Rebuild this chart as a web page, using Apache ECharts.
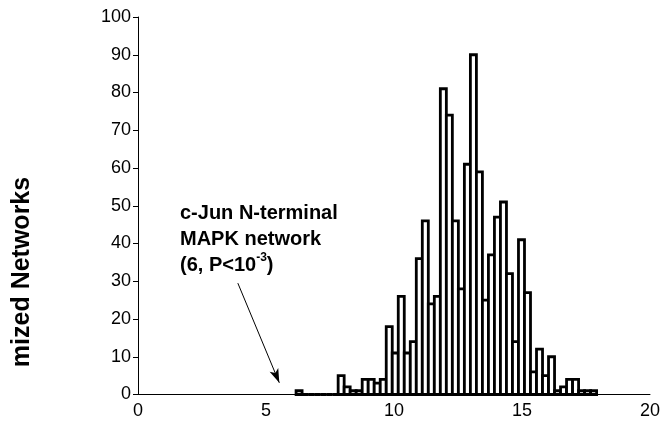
<!DOCTYPE html>
<html><head><meta charset="utf-8">
<script src="https://cdn.jsdelivr.net/npm/echarts@6/dist/echarts.min.js"></script>
<style>html,body{margin:0;padding:0;background:#fff}#c{width:663px;height:424px}</style>
</head><body><div id="c"></div>
<script>
// Histogram data (50 equal-width bins)
const binStart = 6.175;
const binWidth = 0.2348;
const counts = [1,0,0,0,0,0,0,5,2,1,1,4,4,3,4,18,11,26,11,14,36,46,24,26,81,74,46,28,61,90,59,25,37,47,51,32,14,41,27,6,12,5,10,1,2,4,4,1,1,1];
const xTickValues = [0,5,10,15,20];
const yTickValues = [0,10,20,30,40,50,60,70,80,90,100];
const yTitle = 'mized Networks';
const annotationLines = ['c-Jun N-terminal', 'MAPK network'];
const annotationLast = ['(6, P<10', '-3', ')'];
const arrowFrom = [3.9, 29.5];
const arrowTo = [5.52, 3.1];

const FONT = '"Liberation Sans", Arial, sans-serif';
const barData = counts.map((c, i) => [binStart + i * binWidth, binStart + (i + 1) * binWidth, c]);

const chart = echarts.init(document.getElementById('c'), null, {renderer: 'canvas'});
chart.setOption({
  animation: false,
  backgroundColor: '#fff',
  grid: {left: 138, right: 11, top: 17, bottom: 29.5, containLabel: false},
  xAxis: {
    type: 'value', min: xTickValues[0], max: xTickValues[xTickValues.length - 1], interval: 5,
    axisLine: {show: true, lineStyle: {color: '#000', width: 1}},
    axisTick: {show: false},
    splitLine: {show: false},
    axisLabel: {color: '#000', fontSize: 18, fontFamily: FONT, margin: 8}
  },
  yAxis: {
    type: 'value', min: yTickValues[0], max: yTickValues[yTickValues.length - 1], interval: 10,
    axisLine: {show: true, lineStyle: {color: '#000', width: 1}},
    axisTick: {show: true, length: 5, lineStyle: {color: '#000', width: 1}},
    splitLine: {show: false},
    axisLabel: {color: '#000', fontSize: 18, fontFamily: FONT, margin: 7}
  },
  series: [
    {
      type: 'custom',
      data: barData,
      encode: {x: [0, 1], y: 2},
      renderItem: function (params, api) {
        const p0 = api.coord([api.value(0), 0]);
        const p1 = api.coord([api.value(1), api.value(2)]);
        return {
          type: 'rect',
          shape: {x: p0[0], y: p1[1], width: p1[0] - p0[0], height: p0[1] - p1[1]},
          style: {fill: '#fff', stroke: '#000', lineWidth: 2.8}
        };
      },
      z: 3
    },
    {
      type: 'line',
      data: [],
      markLine: {
        silent: true,
        symbol: ['none', 'arrow'],
        symbolSize: [7, 14],
        label: {show: false},
        lineStyle: {color: '#000', width: 1, type: 'solid'},
        data: [[{coord: arrowFrom}, {coord: arrowTo}]]
      }
    }
  ],
  graphic: [
    {
      type: 'text', left: 180, top: 200,
      style: {
        text: annotationLines.join('\n') + '\n' + annotationLast[0] + '{sup|' + annotationLast[1] + '}' + annotationLast[2],
        font: 'bold 20px ' + FONT,
        fill: '#000',
        lineHeight: 26,
        rich: {
          sup: {fontSize: 12, fontWeight: 'bold', fontFamily: FONT, verticalAlign: 'top', lineHeight: 26, padding: [0, 0, 8, 0]}
        }
      }
    },
    {
      type: 'text',
      x: 22, y: 272,
      rotation: Math.PI / 2,
      style: {
        text: yTitle,
        font: 'bold 25px ' + FONT,
        fill: '#000',
        align: 'center',
        verticalAlign: 'middle'
      }
    }
  ]
});
</script>
</body></html>
